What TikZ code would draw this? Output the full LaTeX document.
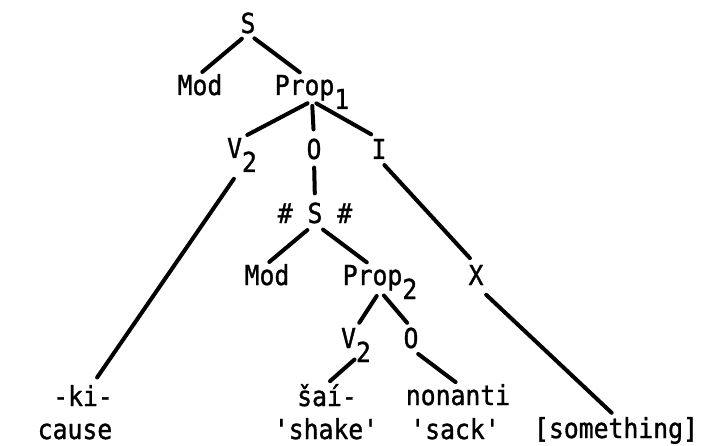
\documentclass[tikz,border=0pt]{standalone}
\usepackage{fontspec}
\newfontfamily\typewr{DejaVu Sans Mono}[FakeStretch=0.9,FakeBold=1.2]
\newcommand{\lowsub}[1]{\raisebox{-14pt}[0pt][0pt]{#1}}

\begin{document}
\begin{tikzpicture}[x=1pt,y=-1pt,
  lbl/.style={anchor=base,inner sep=0pt,font=\typewr\fontsize{27.5}{30}\selectfont},
  branch/.style={line width=4pt,line cap=round,shorten <=8pt,shorten >=9pt}]
\useasboundingbox (0,0) rectangle (711,446);
% upper tree
\node[lbl] (top) at (248,33) {S};
\node[lbl] (mod1) at (200,95) {Mod};
\node[lbl] (prop1) at (312,95) {Prop\lowsub{1}};
\node[lbl] (vtwo) at (242,158) {V\lowsub{2}};
\node[lbl] (obj) at (314,159) {O};
\node[lbl] (inst) at (379,159) {I};
% embedded sentence
\node[lbl] (emb) at (315,223) {\# S \#};
\node[lbl] (mod2) at (267,285) {Mod};
\node[lbl] (prop2) at (380,285) {Prop\lowsub{2}};
\node[lbl] (xnode) at (476,285) {X};
\node[lbl] (vtwoin) at (356,348) {V\lowsub{2}};
\node[lbl] (objin) at (411,348) {O};
% words and glosses
\node[lbl] (ki) at (83,406) {-ki-};
\node[lbl] (cause) at (75,439) {cause};
\node[lbl] (sai) at (327,406) {šaí-};
\node[lbl] (shake) at (326,439) {'shake'};
\node[lbl] (nonanti) at (458,405) {nonanti};
\node[lbl] (sack) at (455,439) {'sack'};
\node[lbl] (thing) at (616,438) {[something]};

\draw[branch,shorten >=3pt] (top.south) -- (mod1.north);
\draw[branch,shorten >=4pt] (top.south) -- ([xshift=-9pt]prop1.north);
\draw[branch,shorten <=5pt,shorten >=6pt] (prop1.south) -- (vtwo.north);
\draw[branch,shorten <=5pt] (prop1.south) -- (obj.north);
\draw[branch,shorten <=5pt] (prop1.south) -- (inst.north);
\draw[branch,shorten <=2pt,shorten >=9pt] ([shift={(-7pt,-19pt)}]vtwo.south) -- ([xshift=9pt]ki.north);
\draw[branch] (obj.south) -- (emb.north);
\draw[branch] (inst.south) -- (xnode.north);
\draw[branch,shorten <=10pt,shorten >=3pt] (emb.south) -- (mod2.north);
\draw[branch,shorten <=10pt,shorten >=4pt] (emb.south) -- ([xshift=-10pt]prop2.north);
\draw[branch,shorten <=6pt,shorten >=6pt] (prop2.south) -- (vtwoin.north);
\draw[branch,shorten <=6pt,shorten >=6pt] (prop2.south) -- (objin.north);
\draw[branch,shorten <=2pt,shorten >=4pt] ([yshift=-10pt]vtwoin.south) -- (sai.north);
\draw[branch,shorten <=9pt,shorten >=3pt] (objin.south) -- (nonanti.north);
\draw[branch,shorten <=14pt,shorten >=6pt] (xnode.south) -- (thing.north);
\end{tikzpicture}
\end{document}
